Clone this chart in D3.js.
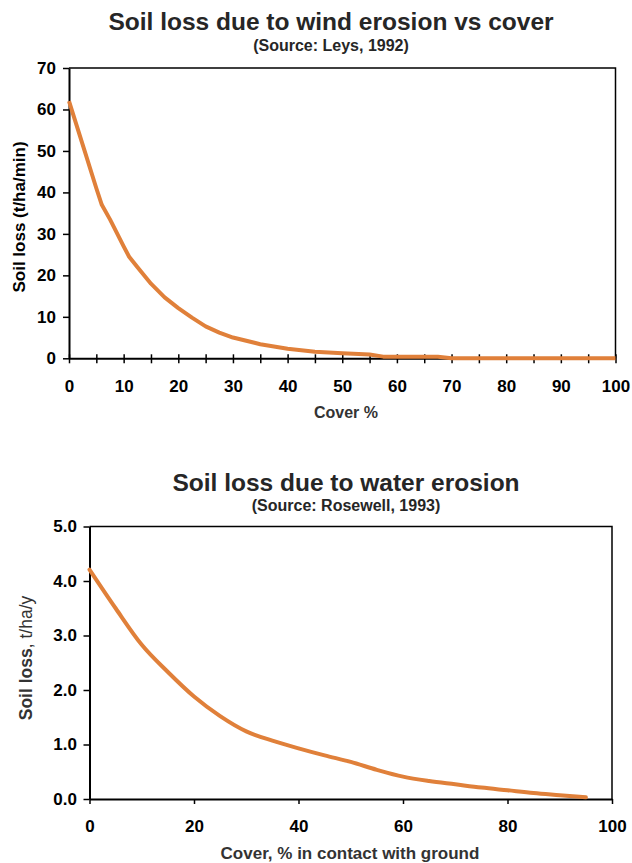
<!DOCTYPE html>
<html>
<head>
<meta charset="utf-8">
<script src="https://cdn.jsdelivr.net/npm/d3@7"></script>
<style>
  body { margin: 0; background: #fff; }
  svg { display: block; font-family: "Liberation Sans", Arial, Helvetica, sans-serif; }
</style>
</head>
<body>
<div class="chart"></div>
<script>
// wind erosion (Leys, 1992)
const windCover = [0, 2.5, 5, 6, 7.5, 10, 11, 12.5, 15, 17.5, 20, 22.5, 25, 27.5, 30, 35, 40, 45, 50, 55, 57.5, 60, 65, 67.5, 70, 75, 80, 85, 90, 95, 100];
const windLoss  = [62, 51.5, 41, 37, 33.5, 27, 24.5, 22, 18, 14.7, 12.1, 9.8, 7.7, 6.2, 5.0, 3.4, 2.3, 1.6, 1.2, 0.9, 0.4, 0.4, 0.4, 0.4, 0, 0, 0, 0, 0, 0, 0];
const windXTicks = d3.range(0, 101, 5);
const windYTicks = [0, 10, 20, 30, 40, 50, 60, 70];

// water erosion (Rosewell, 1993)
const waterCover = [0, 5, 10, 15, 20, 25, 30, 35, 40, 45, 50, 55, 60, 65, 70, 75, 80, 85, 90, 95];
const waterLoss  = [4.21, 3.50, 2.83, 2.33, 1.88, 1.52, 1.24, 1.07, 0.93, 0.80, 0.68, 0.535, 0.41, 0.33, 0.27, 0.21, 0.16, 0.11, 0.07, 0.03];
const waterXTicks = [0, 20, 40, 60, 80, 100];
const waterYTicks = [0, 1, 2, 3, 4, 5];

const lineColor = '#e0803a';

const svg = d3.select('.chart')
    .append('svg')
    .attr('width', 632)
    .attr('height', 863);

function drawTitle(cx, y1, y2, title, source) {
    svg.append('text')
        .attr('x', cx).attr('y', y1)
        .attr('text-anchor', 'middle')
        .attr('font-size', 24.5)
        .attr('font-weight', 'bold')
        .attr('fill', '#262626')
        .text(title);
    svg.append('text')
        .attr('x', cx).attr('y', y2)
        .attr('text-anchor', 'middle')
        .attr('font-size', 16)
        .attr('font-weight', 'bold')
        .attr('fill', '#262626')
        .text(source);
}

// ---- top chart ----
const x1 = d3.scaleLinear().domain([0, 100]).range([69, 615.5]);
const y1 = d3.scaleLinear().domain([0, 70]).range([358.3, 68]);

drawTitle(331, 30, 51, 'Soil loss due to wind erosion vs cover', '(Source: Leys, 1992)');

const windChart = svg.append('g');

windChart.append('path')
    .attr('d', `M${x1(0)},${y1(70)}H${x1(100)}V${y1(0)}`)
    .attr('fill', 'none')
    .attr('stroke', '#000')
    .attr('stroke-width', 1.5);

const topX = windChart.append('g')
    .attr('transform', `translate(0,${y1(0)})`)
    .call(d3.axisBottom(x1)
        .tickValues(windXTicks)
        .tickSizeInner(5)
        .tickSizeOuter(0)
        .tickPadding(17)
        .tickFormat(d => d % 10 === 0 ? d : ''));
topX.selectAll('.tick line').attr('y1', -4);

const topY = windChart.append('g')
    .attr('transform', `translate(${x1(0)},0)`)
    .call(d3.axisLeft(y1)
        .tickValues(windYTicks)
        .tickSizeInner(6)
        .tickSizeOuter(0)
        .tickPadding(7));

[topX, topY].forEach(g => {
    g.select('.domain').attr('stroke-width', 2);
    g.selectAll('.tick line').attr('stroke-width', 1.5);
    g.selectAll('.tick text')
        .attr('font-size', 17)
        .attr('font-weight', 'bold')
        .attr('fill', '#000');
    g.attr('font-family', null).attr('font-size', null);
});

windChart.append('path')
    .datum(windCover.map((c, i) => [c, windLoss[i]]))
    .attr('fill', 'none')
    .attr('stroke', lineColor)
    .attr('stroke-width', 4)
    .attr('stroke-linejoin', 'round')
    .attr('d', d3.line().x(d => x1(d[0])).y(d => y1(d[1])));

windChart.append('text')
    .attr('x', 346).attr('y', 417.5)
    .attr('text-anchor', 'middle')
    .attr('font-size', 16)
    .attr('font-weight', 'bold')
    .attr('fill', '#333')
    .text('Cover %');

windChart.append('text')
    .attr('transform', 'translate(25,217) rotate(-90)')
    .attr('text-anchor', 'middle')
    .attr('font-size', 17)
    .attr('font-weight', 'bold')
    .attr('fill', '#000')
    .text('Soil loss (t/ha/min)');

// ---- bottom chart ----
const x2 = d3.scaleLinear().domain([0, 100]).range([89.5, 612]);
const y2 = d3.scaleLinear().domain([0, 5]).range([799, 526.5]);

drawTitle(346, 490.7, 511, 'Soil loss due to water erosion', '(Source: Rosewell, 1993)');

const waterChart = svg.append('g');

waterChart.append('path')
    .attr('d', `M${x2(0)},${y2(5)}H${x2(100)}V${y2(0)}`)
    .attr('fill', 'none')
    .attr('stroke', '#000')
    .attr('stroke-width', 1.5);

const botX = waterChart.append('g')
    .attr('transform', `translate(0,${y2(0)})`)
    .call(d3.axisBottom(x2)
        .tickValues(waterXTicks)
        .tickSizeInner(5)
        .tickSizeOuter(0)
        .tickPadding(16));

const botY = waterChart.append('g')
    .attr('transform', `translate(${x2(0)},0)`)
    .call(d3.axisLeft(y2)
        .tickValues(waterYTicks)
        .tickSizeInner(6)
        .tickSizeOuter(0)
        .tickPadding(6.5)
        .tickFormat(d3.format('.1f')));

[botX, botY].forEach(g => {
    g.select('.domain').attr('stroke-width', 2);
    g.selectAll('.tick line').attr('stroke-width', 1.5);
    g.selectAll('.tick text')
        .attr('font-size', 17)
        .attr('font-weight', 'bold')
        .attr('fill', '#000');
    g.attr('font-family', null).attr('font-size', null);
});

waterChart.append('path')
    .datum(waterCover.map((c, i) => [c, waterLoss[i]]))
    .attr('fill', 'none')
    .attr('stroke', lineColor)
    .attr('stroke-width', 4)
    .attr('stroke-linecap', 'round')
    .attr('d', d3.line().curve(d3.curveMonotoneX).x(d => x2(d[0])).y(d => y2(d[1])));

waterChart.append('text')
    .attr('x', 350).attr('y', 858.5)
    .attr('text-anchor', 'middle')
    .attr('font-size', 17)
    .attr('font-weight', 'bold')
    .attr('fill', '#333')
    .text('Cover, % in contact with ground');

const yTitle2 = waterChart.append('text')
    .attr('transform', 'translate(32,658) rotate(-90)')
    .attr('text-anchor', 'middle')
    .attr('font-size', 17.5)
    .attr('fill', '#333');
yTitle2.append('tspan').attr('font-weight', 'bold').text('Soil loss');
yTitle2.append('tspan').text(', t/ha/y');
</script>
</body>
</html>
